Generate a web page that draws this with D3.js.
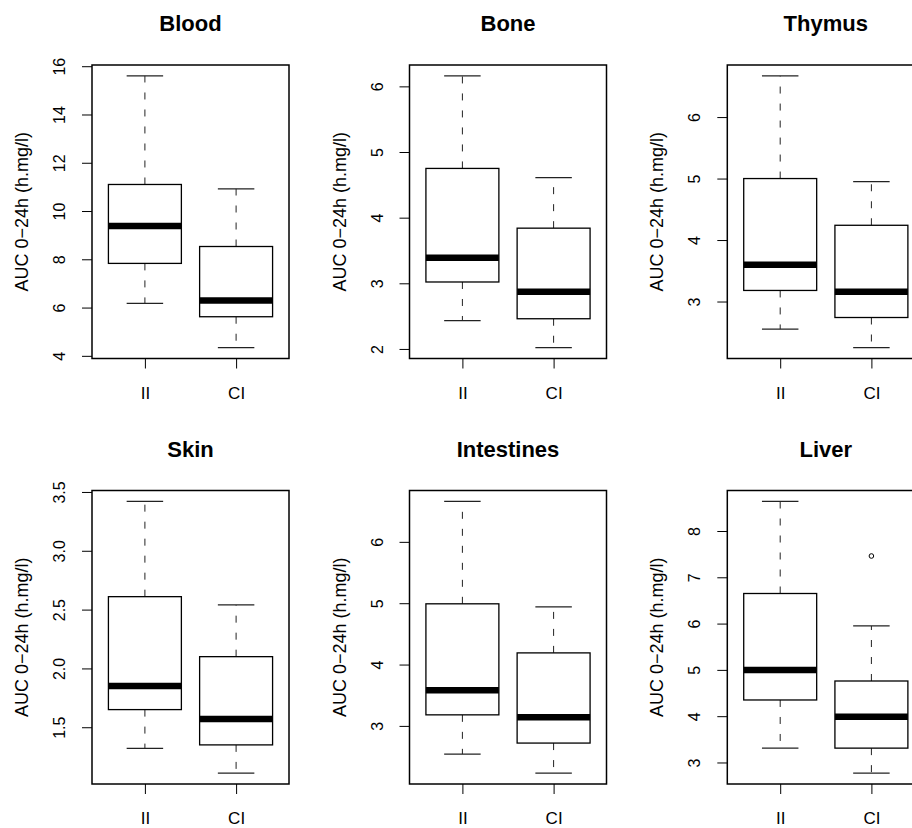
<!DOCTYPE html>
<html>
<head>
<meta charset="utf-8">
<script src="https://cdn.jsdelivr.net/npm/d3@7"></script>
<style>
  body { margin: 0; background: #fff; }
  svg { display: block; font-family: "Liberation Sans", Arial, Helvetica, sans-serif; }
  .frame { fill: none; stroke: #000; stroke-width: 1.5; }
  .box { fill: #fff; stroke: #000; stroke-width: 1.3; }
  .med { stroke: #000; stroke-width: 6.5; }
  .whisk { stroke: #222; stroke-width: 1; stroke-dasharray: 7, 10; }
  .cap { stroke: #222; stroke-width: 1.3; }
</style>
</head>
<body>
<svg class="chart"></svg>
<script>

// group names on the x axis
const groups = ['II', 'CI']

// one entry per organ, panels left->right, top->bottom
const organs = ['Blood', 'Bone', 'Thymus', 'Skin', 'Intestines', 'Liver']

// box stats per organ: [lower whisker, Q1, median, Q3, upper whisker] for II then CI
const statsII = [
    [6.17, 7.83, 9.38, 11.10, 15.60],
    [2.43, 3.02, 3.39, 4.75, 6.16],
    [2.55, 3.18, 3.60, 5.00, 6.67],
    [1.32, 1.65, 1.85, 2.61, 3.42],
    [2.54, 3.18, 3.58, 4.99, 6.66],
    [3.31, 4.35, 5.00, 6.65, 8.64]
]
const statsCI = [
    [4.34, 5.62, 6.29, 8.53, 10.92],
    [2.02, 2.46, 2.87, 3.84, 4.61],
    [2.25, 2.74, 3.16, 4.24, 4.95],
    [1.11, 1.35, 1.57, 2.10, 2.54],
    [2.23, 2.72, 3.14, 4.19, 4.94],
    [2.77, 3.31, 3.99, 4.76, 5.95]
]

// outliers (only Liver / CI has one)
const outliersII = [[], [], [], [], [], []]
const outliersCI = [[], [], [], [], [], [7.46]]

// y tick values and labels per organ
const yTicks = [
    [4, 6, 8, 10, 12, 14, 16],
    [2, 3, 4, 5, 6],
    [3, 4, 5, 6],
    [1.5, 2.0, 2.5, 3.0, 3.5],
    [3, 4, 5, 6],
    [3, 4, 5, 6, 7, 8]
]
const yTickLabels = [
    ['4', '6', '8', '10', '12', '14', '16'],
    ['2', '3', '4', '5', '6'],
    ['3', '4', '5', '6'],
    ['1.5', '2.0', '2.5', '3.0', '3.5'],
    ['3', '4', '5', '6'],
    ['3', '4', '5', '6', '7', '8']
]

const yTitle = 'AUC 0\u221224h (h.mg/l)'

const width = 912
const height = 828

const svg = d3.select('.chart')
    .attr('width', width)
    .attr('height', height)

const panelW = 197
const panelH = 293.5
const lefts = [92, 409.5, 727.3]
const tops = [65, 490.5]

const draw = (k) => {

    const col = k % 3
    const row = Math.floor(k / 3)
    const x0 = lefts[col]
    const y0 = tops[row]

    const g = svg.append('g').attr('transform', `translate(${x0},${y0})`)

    // R style: data range padded by 4%
    const all = statsII[k].concat(statsCI[k], outliersII[k], outliersCI[k])
    const lo = d3.min(all), hi = d3.max(all)
    const pad = (hi - lo) * 0.04

    const y = d3.scaleLinear().domain([lo - pad, hi + pad]).range([panelH, 0])
    const x = d3.scaleLinear().domain([0.42, 2.58]).range([0, panelW])

    const bw = x(1.4) - x(1)
    const cw = x(1.2) - x(1)

    const series = [
        { name: groups[0], s: statsII[k], out: outliersII[k], pos: 1 },
        { name: groups[1], s: statsCI[k], out: outliersCI[k], pos: 2 }
    ]

    series.forEach(d => {
        const cx = x(d.pos)
        const [wlo, q1, med, q3, whi] = d.s

        g.append('line').attr('class', 'whisk')
            .attr('x1', cx).attr('x2', cx).attr('y1', y(q3)).attr('y2', y(whi))
        g.append('line').attr('class', 'whisk')
            .attr('x1', cx).attr('x2', cx).attr('y1', y(q1)).attr('y2', y(wlo))

        g.append('line').attr('class', 'cap')
            .attr('x1', cx - cw).attr('x2', cx + cw).attr('y1', y(whi)).attr('y2', y(whi))
        g.append('line').attr('class', 'cap')
            .attr('x1', cx - cw).attr('x2', cx + cw).attr('y1', y(wlo)).attr('y2', y(wlo))

        g.append('rect').attr('class', 'box')
            .attr('x', cx - bw).attr('width', bw * 2)
            .attr('y', y(q3)).attr('height', y(q1) - y(q3))

        g.append('line').attr('class', 'med')
            .attr('x1', cx - bw).attr('x2', cx + bw).attr('y1', y(med)).attr('y2', y(med))

        g.selectAll(null)
            .data(d.out)
            .enter()
            .append('circle')
            .attr('cx', cx).attr('cy', v => y(v)).attr('r', 2.3)
            .attr('fill', 'none').attr('stroke', '#000').attr('stroke-width', 1)
    })

    g.append('rect').attr('class', 'frame')
        .attr('width', panelW).attr('height', panelH)

    // y axis
    const yAxis = d3.axisLeft(y)
        .tickValues(yTicks[k])
        .tickFormat((v, i) => yTickLabels[k][i])
        .tickSize(10)

    const ya = g.append('g').call(yAxis)
        .attr('font-family', null)
        .attr('font-size', null)
    ya.select('.domain').remove()
    ya.selectAll('.tick line').attr('stroke', '#000')
    ya.selectAll('.tick text')
        .attr('transform', 'rotate(-90)')
        .attr('x', 0).attr('y', -27).attr('dy', 0)
        .attr('text-anchor', 'middle')
        .attr('font-size', 16)
        .attr('fill', '#000')

    // x axis
    const xAxis = d3.axisBottom(x)
        .tickValues([1, 2])
        .tickFormat((v, i) => groups[i])
        .tickSize(10)

    const xa = g.append('g').attr('transform', `translate(0,${panelH})`).call(xAxis)
        .attr('font-family', null)
        .attr('font-size', null)
    xa.select('.domain').remove()
    xa.selectAll('.tick line').attr('stroke', '#000')
    xa.selectAll('.tick text')
        .attr('y', 40).attr('dy', 0)
        .attr('font-size', 17)
        .attr('fill', '#000')

    // y title
    g.append('text')
        .attr('transform', `translate(-64,${panelH / 2}) rotate(-90)`)
        .attr('text-anchor', 'middle')
        .attr('font-size', 18)
        .text(yTitle)

    // panel title
    g.append('text')
        .attr('x', panelW / 2)
        .attr('y', -34)
        .attr('text-anchor', 'middle')
        .attr('font-size', 22)
        .attr('font-weight', 'bold')
        .text(organs[k])
}

organs.forEach((o, k) => draw(k))

</script>
</body>
</html>
